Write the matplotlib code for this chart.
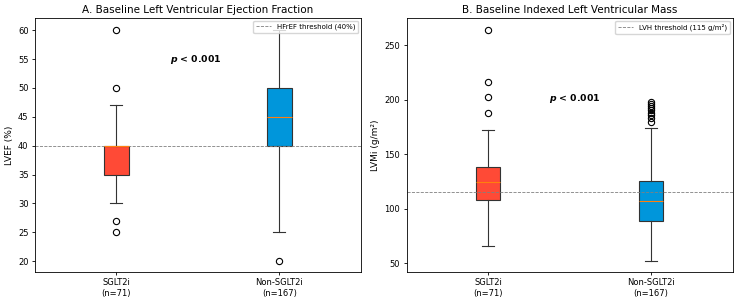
import numpy as np
import matplotlib.pyplot as plt

groups = ['SGLT2i\n(n=71)', 'Non-SGLT2i\n(n=167)']
colors = ['#FF4A36', '#0096DB']

# five-number summaries: low whisker, q1, median, q3, high whisker
lvef_stats = [[30, 35, 40, 40, 47], [25, 40, 45, 50, 60]]
lvef_fliers = [[25, 27, 50, 60], [20]]

lvmi_stats = [[66, 108, 124, 138, 172], [52, 89, 107, 125, 174]]
lvmi_fliers = [[188, 202, 216, 264], [179, 183, 186, 188, 190, 192, 194, 196, 198]]


def draw_box(ax, stats, fliers):
  # build the bxp dicts from the summaries and draw them filled
  data = []
  for s, f in zip(stats, fliers):
    data.append(dict(whislo=s[0], q1=s[1], med=s[2], q3=s[3], whishi=s[4], fliers=f))
  bp = ax.bxp(data, positions=[1, 2], widths=0.15, patch_artist=True,
              boxprops=dict(linewidth=0.8),
              medianprops=dict(color='#ff7f0e', linewidth=0.8),
              whiskerprops=dict(color='#333333', linewidth=0.8),
              capprops=dict(color='#333333', linewidth=0.8),
              flierprops=dict(marker='o', markerfacecolor='none', markeredgecolor='black',
                              markersize=4.5, markeredgewidth=0.8))
  for patch, c in zip(bp['boxes'], colors):
    patch.set_facecolor(c)
    patch.set_edgecolor('#333333')
  ax.set_xticks([1, 2])
  ax.set_xticklabels(groups, fontsize=6)
  ax.tick_params(labelsize=6, width=0.6, length=2.5, pad=2)
  for sp in ax.spines.values():
    sp.set_linewidth(0.6)


fig, (ax1, ax2) = plt.subplots(1, 2, figsize=(7.4, 3.01), dpi=100)

draw_box(ax1, lvef_stats, lvef_fliers)
ax1.axhline(40, color='gray', linestyle='--', linewidth=0.6, label='HFrEF threshold (40%)')
ax1.set_ylim(18.1, 62.1)
ax1.set_yticks(np.arange(20, 61, 5))
ax1.set_ylabel('LVEF (%)', fontsize=6.5, labelpad=3)
ax1.set_title('A. Baseline Left Ventricular Ejection Fraction', fontsize=7.5, pad=4)
ax1.text(1.49, 55, r'$\boldsymbol{p}$ < 0.001', fontsize=6.7, fontweight='bold', ha='center', va='center')
ax1.legend(loc='upper right', fontsize=5, borderaxespad=0.4, handlelength=2.2)

draw_box(ax2, lvmi_stats, lvmi_fliers)
ax2.axhline(115, color='gray', linestyle='--', linewidth=0.6, label='LVH threshold (115 g/m²)')
ax2.set_ylim(41.7, 274.8)
ax2.set_ylabel('LVMi (g/m²)', fontsize=6.5, labelpad=3)
ax2.set_title('B. Baseline Indexed Left Ventricular Mass', fontsize=7.5, pad=4)
ax2.text(1.53, 201, r'$\boldsymbol{p}$ < 0.001', fontsize=6.7, fontweight='bold', ha='center', va='center')
ax2.legend(loc='upper right', fontsize=5, borderaxespad=0.4, handlelength=2.2)

plt.subplots_adjust(left=0.047, right=0.99, top=0.94, bottom=0.096, wspace=0.14)
plt.savefig('out.png', dpi=100)
